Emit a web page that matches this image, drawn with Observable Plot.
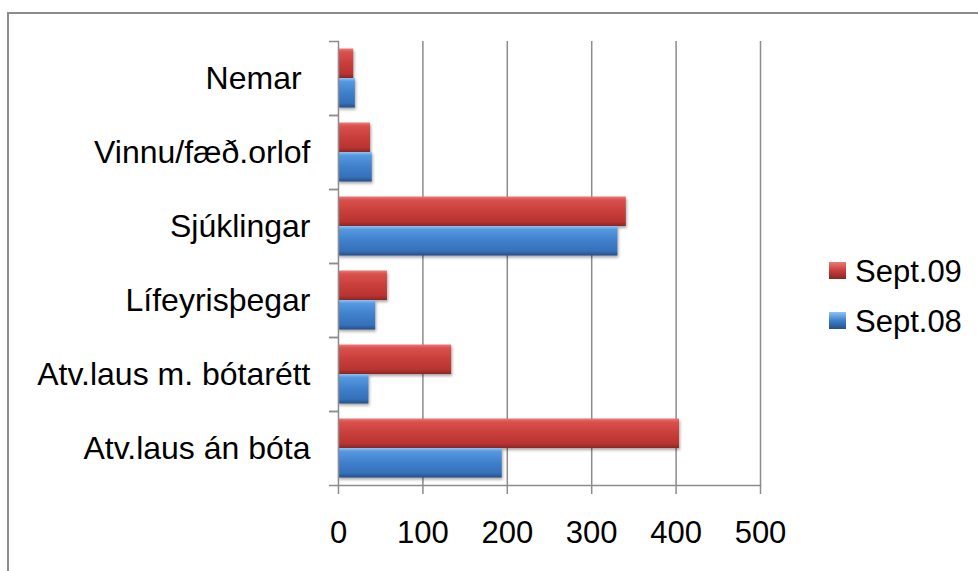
<!DOCTYPE html>
<html>
<head>
<meta charset="utf-8">
<script src="https://cdn.jsdelivr.net/npm/d3@7"></script>
<script src="https://cdn.jsdelivr.net/npm/@observablehq/plot@0.6"></script>
<style>
  html, body { margin: 0; padding: 0; background: #fff; }
  #wrap { position: relative; width: 978px; height: 571px; overflow: hidden; background: #fff;
          font-family: "Liberation Sans", Arial, sans-serif; }
  #frame { position: absolute; left: 7px; top: 12px; width: 1000px; height: 600px;
           border-left: 2px solid #8c8c8c; border-top: 2px solid #8c8c8c; box-sizing: border-box; }
  #chart { position: absolute; left: 0; top: 0; }
  .bars { filter: drop-shadow(1px 2px 1.5px rgba(0,0,0,0.35)); }
  .legend-item { position: absolute; left: 829px; font-size: 31px; line-height: 31px; color: #000; white-space: nowrap; }
  .legend-item .sw { position: absolute; left: 0; width: 17px; height: 17px; }
  .legend-item .lbl { position: absolute; left: 26px; top: 0; }
</style>
</head>
<body>
<div id="wrap">
  <div id="frame"></div>
  <div id="chart"></div>
  <div id="legend"></div>
</div>
<script>
// ---- data ----
const categories = ["Nemar\u00a0", "Vinnu/fæð.orlof", "Sjúklingar", "Lífeyrisþegar", "Atv.laus m. bótarétt", "Atv.laus án bóta"];
const seriesNames = ["Sept.09", "Sept.08"];
const sept09 = [18, 38, 341, 58, 134, 404];
const sept08 = [20, 40, 331, 44, 36, 194];
const xTicks = [0, 100, 200, 300, 400, 500];

// ---- layout ----
const W = 978, H = 571, mTop = 41, mBottom = 86, mLeft = 338, mRight = 218;
const halfStep = (H - mTop - mBottom) / categories.length / 2;
const gray = "#8c8c8c";

const rows09 = categories.map((c, i) => ({category: c, series: seriesNames[0], value: sept09[i]}));
const rows08 = categories.map((c, i) => ({category: c, series: seriesNames[1], value: sept08[i]}));

const chart = Plot.plot({
  width: W,
  height: H,
  marginTop: mTop,
  marginBottom: mBottom,
  marginLeft: mLeft,
  marginRight: mRight,
  style: {fontFamily: '"Liberation Sans", Arial, sans-serif', fontSize: "31px", color: "#000", background: "transparent", overflow: "visible"},
  x: {domain: [0, 500], label: null},
  y: {domain: categories, padding: 0, label: null},
  marks: [
    Plot.gridX(xTicks.slice(1), {stroke: gray, strokeOpacity: 1, strokeWidth: 1.5}),
    Plot.barX(rows09, {x: "value", y: "category", fill: "url(#gradRed)", insetTop: 7.5, insetBottom: 37, className: "bars"}),
    Plot.barX(rows08, {x: "value", y: "category", fill: "url(#gradBlue)", insetTop: 37, insetBottom: 7.5, className: "bars"}),
    Plot.frame({anchor: "left", stroke: gray, strokeWidth: 1.5}),
    Plot.frame({anchor: "bottom", stroke: gray, strokeWidth: 1.5}),
    Plot.axisY({tickSize: 0, tickPadding: 28, fill: "#000", fontSize: 32, label: null}),
    Plot.axisY({tickSize: 9, tickFormat: () => "", dy: -halfStep, stroke: gray, strokeWidth: 1.5, label: null}),
    Plot.axisY({tickSize: 9, tickFormat: () => "", dy: halfStep, stroke: gray, strokeWidth: 1.5, label: null}),
    Plot.axisX({ticks: xTicks, tickSize: 9, tickPadding: 26, stroke: gray, strokeWidth: 1.5, fill: "#000", label: null})
  ]
});

// gradient definitions for beveled bars
const defs = d3.select(chart).insert("defs", ":first-child");
function addGrad(id, stops) {
  const g = defs.append("linearGradient").attr("id", id).attr("x1", 0).attr("y1", 0).attr("x2", 0).attr("y2", 1);
  stops.forEach(([o, c]) => g.append("stop").attr("offset", o).attr("stop-color", c));
}
addGrad("gradRed", [[0, "#ea7a78"], [0.12, "#d9504d"], [0.5, "#c83e3b"], [0.85, "#b83431"], [1, "#8a2624"]]);
addGrad("gradBlue", [[0, "#8cc4f4"], [0.12, "#5598e0"], [0.5, "#3f7fcb"], [0.85, "#3670ba"], [1, "#264f87"]]);

document.getElementById("chart").appendChild(chart);

// legend
const legend = document.getElementById("legend");
const legendItems = [
  {name: seriesNames[0], grad: "linear-gradient(#ea7a78, #c83e3b 50%, #8a2624)", top: 256},
  {name: seriesNames[1], grad: "linear-gradient(#8cc4f4, #3f7fcb 50%, #264f87)", top: 306}
];
legendItems.forEach(it => {
  const d = document.createElement("div");
  d.className = "legend-item";
  d.style.top = it.top + "px";
  const sw = document.createElement("div");
  sw.className = "sw";
  sw.style.top = "6px";
  sw.style.background = it.grad;
  const t = document.createElement("span");
  t.className = "lbl";
  t.textContent = it.name;
  d.appendChild(sw);
  d.appendChild(t);
  legend.appendChild(d);
});
</script>
</body>
</html>
